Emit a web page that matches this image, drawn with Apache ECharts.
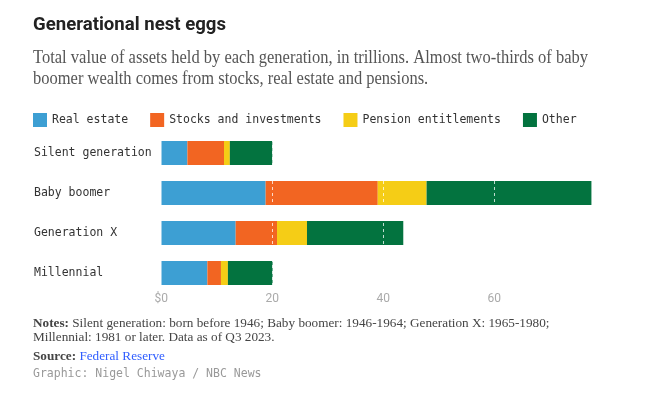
<!DOCTYPE html>
<html>
<head>
<meta charset="utf-8">
<script src="https://cdn.jsdelivr.net/npm/echarts@6/dist/echarts.min.js"></script>
<style>
  html, body { margin: 0; padding: 0; background: #fff; }
  #chart { width: 645px; height: 396px; }
</style>
</head>
<body>
<div id="chart"></div>
<script>
// data, trillions of dollars
let generations = ['Silent generation', 'Baby boomer', 'Generation X', 'Millennial'];
let realEstate = [4.7, 18.8, 13.4, 8.3];
let stocks = [6.6, 20.2, 7.45, 2.45];
let pensions = [1.05, 8.8, 5.4, 1.25];
let other = [7.65, 29.7, 17.35, 8.05];
let seriesNames = ['Real estate', 'Stocks and investments', 'Pension entitlements', 'Other'];
let seriesColors = ['#3d9fd3', '#f26522', '#f5cd16', '#03733f'];
let tickValues = [0, 20, 40, 60];

let mono = '"DejaVu Sans Mono", "Liberation Mono", monospace';
let serif = '"Liberation Serif", "DejaVu Serif", serif';
let sans = 'Roboto, "Noto Sans", sans-serif';

// squeeze text horizontally to the width it has in the picture
let measureCtx = document.createElement('canvas').getContext('2d');
function fitScale(text, font, width) {
    measureCtx.font = font;
    return width / measureCtx.measureText(text).width;
}

let titleText = 'Generational nest eggs';
let subLine1 = 'Total value of assets held by each generation, in trillions. Almost two-thirds of baby';
let subLine2 = 'boomer wealth comes from stocks, real estate and pensions.';
let notesLine1 = 'Notes: Silent generation: born before 1946; Baby boomer: 1946-1964; Generation X: 1965-1980;';
let notesLine2 = 'Millennial: 1981 or later. Data as of Q3 2023.';

let titleScale = fitScale(titleText, 'bold 19px ' + sans, 193);
let subScale = fitScale(subLine1, '18px ' + serif, 555);
let notesScale = fitScale(notesLine1, '13px ' + serif, 515);

function textEl(x, baseline, size, opts) {
    return Object.assign({
        type: 'text',
        x: x,
        y: baseline - size * 0.33,
        originX: 0,
        originY: 0,
        silent: true
    }, opts);
}

let allSeries = seriesNames.map(function (name, i) {
    let values = [realEstate, stocks, pensions, other][i];
    let s = {
        name: name,
        type: 'bar',
        stack: 'total',
        barWidth: 24,
        itemStyle: { color: seriesColors[i] },
        data: values
    };
    if (i === seriesNames.length - 1) {
        s.markLine = {
            silent: true,
            symbol: 'none',
            label: { show: false },
            data: tickValues.map(function (v) {
                return {
                    xAxis: v,
                    lineStyle: v === 0
                        ? { color: 'rgba(255,255,255,0.3)', type: 'solid', width: 1 }
                        : { color: 'rgba(255,255,255,0.75)', type: [3, 3], width: 1 }
                };
            })
        };
    }
    return s;
});

let option = {
    animation: false,
    legend: {
        left: 28,
        top: 108,
        itemWidth: 14,
        itemHeight: 14,
        itemGap: 22,
        icon: 'rect',
        selectedMode: false,
        textStyle: { fontFamily: mono, fontSize: 11.5, color: '#333' },
        data: seriesNames
    },
    grid: { left: 161.3, right: 39.7, top: 133, height: 160 },
    xAxis: {
        type: 'value',
        min: 0,
        max: 80,
        interval: 20,
        axisLine: { show: false },
        axisTick: { show: false },
        splitLine: { show: false },
        axisLabel: {
            showMaxLabel: false,
            margin: 0,
            color: '#aaa',
            fontFamily: sans,
            fontSize: 12,
            formatter: function (v) { return v === 0 ? '$0' : String(v); }
        }
    },
    yAxis: {
        type: 'category',
        inverse: true,
        data: generations,
        axisLine: { show: false },
        axisTick: { show: false },
        axisLabel: {
            align: 'left',
            margin: 127.3,
            color: '#333',
            fontFamily: mono,
            fontSize: 11.5
        }
    },
    series: allSeries,
    graphic: [
        textEl(33, 32, 19, {
            scaleX: titleScale,
            style: { text: titleText, font: 'bold 19px ' + sans, fill: '#222', textVerticalAlign: 'middle' }
        }),
        textEl(33, 64.5, 18, {
            scaleX: subScale,
            style: { text: subLine1, font: '18px ' + serif, fill: '#555', textVerticalAlign: 'middle' }
        }),
        textEl(33, 85, 18, {
            scaleX: subScale,
            style: { text: subLine2, font: '18px ' + serif, fill: '#555', textVerticalAlign: 'middle' }
        }),
        textEl(33, 327.5, 13, {
            scaleX: notesScale,
            style: {
                text: '{b|Notes:}' + notesLine1.slice(6),
                font: '13px ' + serif,
                fill: '#444',
                textVerticalAlign: 'middle',
                rich: { b: { fontWeight: 'bold', fontFamily: serif, fontSize: 13, fill: '#444' } }
            }
        }),
        textEl(33, 342, 13, {
            scaleX: notesScale,
            style: { text: notesLine2, font: '13px ' + serif, fill: '#444', textVerticalAlign: 'middle' }
        }),
        textEl(33, 360.5, 13, {
            scaleX: notesScale,
            style: {
                text: '{b|Source:} {a|Federal Reserve}',
                font: '13px ' + serif,
                fill: '#444',
                textVerticalAlign: 'middle',
                rich: {
                    b: { fontWeight: 'bold', fontFamily: serif, fontSize: 13, fill: '#444' },
                    a: { fontFamily: serif, fontSize: 13, fill: '#2f5dff' }
                }
            }
        }),
        textEl(33, 377.5, 11.5, {
            style: { text: 'Graphic: Nigel Chiwaya / NBC News', font: '11.5px ' + mono, fill: '#999', textVerticalAlign: 'middle' }
        })
    ]
};

let chart = echarts.init(document.getElementById('chart'));
chart.setOption(option);
</script>
</body>
</html>
